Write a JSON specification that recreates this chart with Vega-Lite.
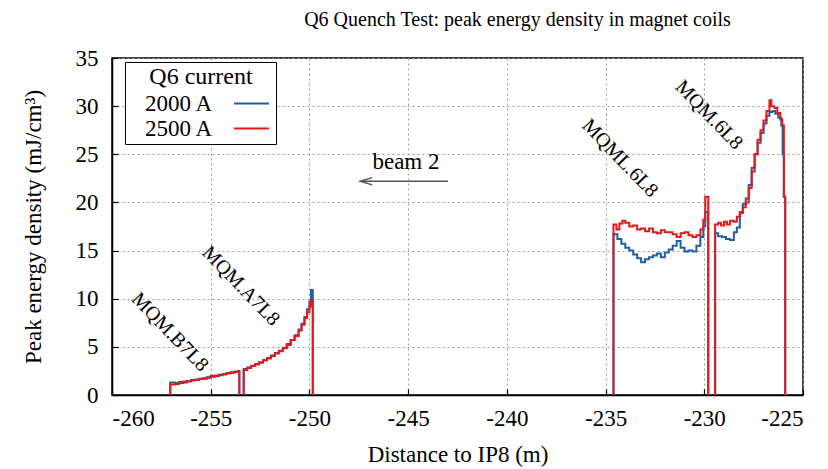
{
  "$schema": "https://vega.github.io/schema/vega-lite/v6.json",
  "width": 691,
  "height": 337,
  "autosize": {"type": "none"},
  "padding": {"left": 112, "top": 58, "right": 25, "bottom": 74},
  "background": "white",
  "title": {"text": "Q6 Quench Test: peak energy density in magnet coils", "fontSize": 20, "font": "Liberation Serif", "fontWeight": "normal", "anchor": "middle", "frame": "group", "dx": 60, "dy": 18, "offset": 15, "baseline": "bottom", "color": "#000"},
  "config": {
    "view": {"stroke": "#000", "strokeWidth": 1.5},
    "font": "Liberation Serif",
    "axis": {"labelFont": "Liberation Serif", "titleFont": "Liberation Serif", "labelFontSize": 23, "titleFontSize": 23, "titleFontWeight": "normal", "labelColor": "#000", "titleColor": "#000", "domainColor": "#000", "domainWidth": 1.5, "tickColor": "#000", "tickWidth": 1.2, "gridColor": "#9a9a9a", "gridDash": [2, 3], "gridWidth": 1, "grid": true}
  },
  "layer": [
    {
      "data": {"values": [
        {"s":"2000 A","g":1,"x":-257.05,"y":0},{"s":"2000 A","g":1,"x":-257.05,"y":1.3},{"s":"2000 A","g":1,"x":-256.8,"y":1.25},{"s":"2000 A","g":1,"x":-256.6,"y":1.35},{"s":"2000 A","g":1,"x":-256.4,"y":1.4},{"s":"2000 A","g":1,"x":-256.2,"y":1.45},{"s":"2000 A","g":1,"x":-256.0,"y":1.55},{"s":"2000 A","g":1,"x":-255.8,"y":1.6},{"s":"2000 A","g":1,"x":-255.6,"y":1.7},{"s":"2000 A","g":1,"x":-255.4,"y":1.75},{"s":"2000 A","g":1,"x":-255.2,"y":1.85},{"s":"2000 A","g":1,"x":-255.0,"y":1.9},{"s":"2000 A","g":1,"x":-254.8,"y":2.0},{"s":"2000 A","g":1,"x":-254.6,"y":2.05},{"s":"2000 A","g":1,"x":-254.4,"y":2.15},{"s":"2000 A","g":1,"x":-254.2,"y":2.25},{"s":"2000 A","g":1,"x":-254.0,"y":2.35},{"s":"2000 A","g":1,"x":-253.8,"y":2.45},{"s":"2000 A","g":1,"x":-253.6,"y":2.5},{"s":"2000 A","g":1,"x":-253.55,"y":0},
        {"s":"2000 A","g":2,"x":-253.33,"y":0},{"s":"2000 A","g":2,"x":-253.33,"y":2.7},{"s":"2000 A","g":2,"x":-253.15,"y":2.85},{"s":"2000 A","g":2,"x":-252.95,"y":3.05},{"s":"2000 A","g":2,"x":-252.75,"y":3.2},{"s":"2000 A","g":2,"x":-252.55,"y":3.4},{"s":"2000 A","g":2,"x":-252.35,"y":3.6},{"s":"2000 A","g":2,"x":-252.15,"y":3.85},{"s":"2000 A","g":2,"x":-251.95,"y":4.1},{"s":"2000 A","g":2,"x":-251.75,"y":4.35},{"s":"2000 A","g":2,"x":-251.55,"y":4.6},{"s":"2000 A","g":2,"x":-251.35,"y":4.9},{"s":"2000 A","g":2,"x":-251.15,"y":5.3},{"s":"2000 A","g":2,"x":-250.95,"y":5.7},{"s":"2000 A","g":2,"x":-250.75,"y":6.2},{"s":"2000 A","g":2,"x":-250.55,"y":6.8},{"s":"2000 A","g":2,"x":-250.4,"y":7.4},{"s":"2000 A","g":2,"x":-250.25,"y":8.1},{"s":"2000 A","g":2,"x":-250.12,"y":8.9},{"s":"2000 A","g":2,"x":-250.0,"y":9.7},{"s":"2000 A","g":2,"x":-249.92,"y":10.9},{"s":"2000 A","g":2,"x":-249.83,"y":0},
        {"s":"2000 A","g":3,"x":-234.6,"y":0},{"s":"2000 A","g":3,"x":-234.6,"y":16.7},{"s":"2000 A","g":3,"x":-234.4,"y":16.2},{"s":"2000 A","g":3,"x":-234.2,"y":15.7},{"s":"2000 A","g":3,"x":-234.0,"y":15.3},{"s":"2000 A","g":3,"x":-233.8,"y":15.0},{"s":"2000 A","g":3,"x":-233.6,"y":14.6},{"s":"2000 A","g":3,"x":-233.4,"y":14.2},{"s":"2000 A","g":3,"x":-233.2,"y":13.8},{"s":"2000 A","g":3,"x":-233.0,"y":14.1},{"s":"2000 A","g":3,"x":-232.8,"y":14.3},{"s":"2000 A","g":3,"x":-232.6,"y":14.5},{"s":"2000 A","g":3,"x":-232.4,"y":14.7},{"s":"2000 A","g":3,"x":-232.2,"y":14.3},{"s":"2000 A","g":3,"x":-232.0,"y":14.8},{"s":"2000 A","g":3,"x":-231.8,"y":15.1},{"s":"2000 A","g":3,"x":-231.6,"y":15.5},{"s":"2000 A","g":3,"x":-231.4,"y":16.0},{"s":"2000 A","g":3,"x":-231.2,"y":15.3},{"s":"2000 A","g":3,"x":-231.0,"y":14.9},{"s":"2000 A","g":3,"x":-230.8,"y":15.0},{"s":"2000 A","g":3,"x":-230.6,"y":14.9},{"s":"2000 A","g":3,"x":-230.4,"y":15.5},{"s":"2000 A","g":3,"x":-230.2,"y":16.4},{"s":"2000 A","g":3,"x":-230.05,"y":17.5},{"s":"2000 A","g":3,"x":-229.95,"y":19.0},{"s":"2000 A","g":3,"x":-229.8,"y":0},
        {"s":"2000 A","g":4,"x":-229.45,"y":0},{"s":"2000 A","g":4,"x":-229.45,"y":16.8},{"s":"2000 A","g":4,"x":-229.3,"y":16.5},{"s":"2000 A","g":4,"x":-229.1,"y":16.4},{"s":"2000 A","g":4,"x":-228.9,"y":16.2},{"s":"2000 A","g":4,"x":-228.7,"y":16.1},{"s":"2000 A","g":4,"x":-228.5,"y":16.9},{"s":"2000 A","g":4,"x":-228.35,"y":17.4},{"s":"2000 A","g":4,"x":-228.2,"y":19.0},{"s":"2000 A","g":4,"x":-228.05,"y":19.8},{"s":"2000 A","g":4,"x":-227.9,"y":20.4},{"s":"2000 A","g":4,"x":-227.75,"y":21.8},{"s":"2000 A","g":4,"x":-227.6,"y":23.6},{"s":"2000 A","g":4,"x":-227.45,"y":25.0},{"s":"2000 A","g":4,"x":-227.3,"y":26.2},{"s":"2000 A","g":4,"x":-227.15,"y":27.2},{"s":"2000 A","g":4,"x":-227.0,"y":28.2},{"s":"2000 A","g":4,"x":-226.85,"y":29.0},{"s":"2000 A","g":4,"x":-226.7,"y":29.4},{"s":"2000 A","g":4,"x":-226.55,"y":29.5},{"s":"2000 A","g":4,"x":-226.4,"y":29.2},{"s":"2000 A","g":4,"x":-226.25,"y":28.8},{"s":"2000 A","g":4,"x":-226.1,"y":28.0},{"s":"2000 A","g":4,"x":-226.03,"y":25.0},{"s":"2000 A","g":4,"x":-225.97,"y":20.6},{"s":"2000 A","g":4,"x":-225.9,"y":0},
        {"s":"2500 A","g":1,"x":-257.05,"y":0},{"s":"2500 A","g":1,"x":-257.05,"y":1.1},{"s":"2500 A","g":1,"x":-256.8,"y":1.15},{"s":"2500 A","g":1,"x":-256.6,"y":1.25},{"s":"2500 A","g":1,"x":-256.4,"y":1.3},{"s":"2500 A","g":1,"x":-256.2,"y":1.4},{"s":"2500 A","g":1,"x":-256.0,"y":1.5},{"s":"2500 A","g":1,"x":-255.8,"y":1.55},{"s":"2500 A","g":1,"x":-255.6,"y":1.65},{"s":"2500 A","g":1,"x":-255.4,"y":1.7},{"s":"2500 A","g":1,"x":-255.2,"y":1.8},{"s":"2500 A","g":1,"x":-255.0,"y":2.0},{"s":"2500 A","g":1,"x":-254.8,"y":1.95},{"s":"2500 A","g":1,"x":-254.6,"y":2.1},{"s":"2500 A","g":1,"x":-254.4,"y":2.15},{"s":"2500 A","g":1,"x":-254.2,"y":2.25},{"s":"2500 A","g":1,"x":-254.0,"y":2.3},{"s":"2500 A","g":1,"x":-253.8,"y":2.4},{"s":"2500 A","g":1,"x":-253.6,"y":2.45},{"s":"2500 A","g":1,"x":-253.55,"y":0},
        {"s":"2500 A","g":2,"x":-253.33,"y":0},{"s":"2500 A","g":2,"x":-253.33,"y":2.6},{"s":"2500 A","g":2,"x":-253.15,"y":2.8},{"s":"2500 A","g":2,"x":-252.95,"y":3.0},{"s":"2500 A","g":2,"x":-252.75,"y":3.2},{"s":"2500 A","g":2,"x":-252.55,"y":3.35},{"s":"2500 A","g":2,"x":-252.35,"y":3.6},{"s":"2500 A","g":2,"x":-252.15,"y":3.8},{"s":"2500 A","g":2,"x":-251.95,"y":4.05},{"s":"2500 A","g":2,"x":-251.75,"y":4.3},{"s":"2500 A","g":2,"x":-251.55,"y":4.55},{"s":"2500 A","g":2,"x":-251.35,"y":4.85},{"s":"2500 A","g":2,"x":-251.15,"y":5.2},{"s":"2500 A","g":2,"x":-250.95,"y":5.7},{"s":"2500 A","g":2,"x":-250.75,"y":6.1},{"s":"2500 A","g":2,"x":-250.55,"y":6.7},{"s":"2500 A","g":2,"x":-250.4,"y":7.3},{"s":"2500 A","g":2,"x":-250.25,"y":8.0},{"s":"2500 A","g":2,"x":-250.12,"y":8.6},{"s":"2500 A","g":2,"x":-250.0,"y":9.2},{"s":"2500 A","g":2,"x":-249.92,"y":9.8},{"s":"2500 A","g":2,"x":-249.83,"y":0},
        {"s":"2500 A","g":3,"x":-234.6,"y":0},{"s":"2500 A","g":3,"x":-234.6,"y":17.7},{"s":"2500 A","g":3,"x":-234.45,"y":17.2},{"s":"2500 A","g":3,"x":-234.3,"y":17.8},{"s":"2500 A","g":3,"x":-234.15,"y":18.1},{"s":"2500 A","g":3,"x":-234.0,"y":17.9},{"s":"2500 A","g":3,"x":-233.8,"y":17.5},{"s":"2500 A","g":3,"x":-233.6,"y":17.6},{"s":"2500 A","g":3,"x":-233.4,"y":17.2},{"s":"2500 A","g":3,"x":-233.2,"y":17.3},{"s":"2500 A","g":3,"x":-233.0,"y":17.0},{"s":"2500 A","g":3,"x":-232.8,"y":17.3},{"s":"2500 A","g":3,"x":-232.6,"y":16.9},{"s":"2500 A","g":3,"x":-232.4,"y":16.8},{"s":"2500 A","g":3,"x":-232.2,"y":17.1},{"s":"2500 A","g":3,"x":-232.0,"y":16.9},{"s":"2500 A","g":3,"x":-231.8,"y":16.9},{"s":"2500 A","g":3,"x":-231.6,"y":16.7},{"s":"2500 A","g":3,"x":-231.4,"y":16.4},{"s":"2500 A","g":3,"x":-231.2,"y":16.8},{"s":"2500 A","g":3,"x":-231.0,"y":16.9},{"s":"2500 A","g":3,"x":-230.8,"y":16.6},{"s":"2500 A","g":3,"x":-230.6,"y":16.4},{"s":"2500 A","g":3,"x":-230.4,"y":16.6},{"s":"2500 A","g":3,"x":-230.2,"y":17.2},{"s":"2500 A","g":3,"x":-230.05,"y":18.2},{"s":"2500 A","g":3,"x":-229.95,"y":20.6},{"s":"2500 A","g":3,"x":-229.8,"y":0},
        {"s":"2500 A","g":4,"x":-229.45,"y":0},{"s":"2500 A","g":4,"x":-229.45,"y":17.7},{"s":"2500 A","g":4,"x":-229.3,"y":17.9},{"s":"2500 A","g":4,"x":-229.15,"y":17.6},{"s":"2500 A","g":4,"x":-229.0,"y":18.0},{"s":"2500 A","g":4,"x":-228.85,"y":17.7},{"s":"2500 A","g":4,"x":-228.7,"y":18.1},{"s":"2500 A","g":4,"x":-228.5,"y":18.0},{"s":"2500 A","g":4,"x":-228.35,"y":18.5},{"s":"2500 A","g":4,"x":-228.2,"y":18.9},{"s":"2500 A","g":4,"x":-228.05,"y":19.5},{"s":"2500 A","g":4,"x":-227.9,"y":20.0},{"s":"2500 A","g":4,"x":-227.75,"y":21.5},{"s":"2500 A","g":4,"x":-227.6,"y":23.2},{"s":"2500 A","g":4,"x":-227.45,"y":25.0},{"s":"2500 A","g":4,"x":-227.3,"y":26.5},{"s":"2500 A","g":4,"x":-227.15,"y":27.5},{"s":"2500 A","g":4,"x":-227.0,"y":28.5},{"s":"2500 A","g":4,"x":-226.85,"y":29.5},{"s":"2500 A","g":4,"x":-226.7,"y":30.6},{"s":"2500 A","g":4,"x":-226.6,"y":30.0},{"s":"2500 A","g":4,"x":-226.45,"y":29.8},{"s":"2500 A","g":4,"x":-226.3,"y":29.3},{"s":"2500 A","g":4,"x":-226.15,"y":28.6},{"s":"2500 A","g":4,"x":-226.05,"y":28.0},{"s":"2500 A","g":4,"x":-225.97,"y":20.6},{"s":"2500 A","g":4,"x":-225.9,"y":0}
      ]},
      "mark": {"type": "line", "interpolate": "step-after", "strokeWidth": 2},
      "encoding": {
        "x": {"field": "x", "type": "quantitative", "title": "Distance to IP8 (m)", "scale": {"domain": [-260, -225], "nice": false, "zero": false}, "axis": {"values": [-260, -255, -250, -245, -240, -235, -230, -225], "labelExpr": "'' + datum.value", "tickSize": -6, "labelPadding": 18, "titlePadding": 13}},
        "y": {"field": "y", "type": "quantitative", "title": "Peak energy density (mJ/cm³)", "scale": {"domain": [0, 35], "nice": false}, "axis": {"values": [0, 5, 10, 15, 20, 25, 30, 35], "tickSize": -6, "labelPadding": 20, "titlePadding": 30}},
        "color": {"field": "s", "type": "nominal", "scale": {"domain": ["2000 A", "2500 A"], "range": ["#1f5fa6", "#e3191c"]},
          "legend": {"title": "Q6 current", "orient": "none", "legendX": 13, "legendY": 4, "direction": "vertical", "strokeColor": "#000", "fillColor": "#fff", "padding": 3, "titleFontSize": 24, "titleFont": "Liberation Serif", "titleFontWeight": "normal", "titleColor": "#000", "titleAnchor": "middle", "labelFontSize": 23, "labelFont": "Liberation Serif", "labelColor": "#000", "symbolType": "M-1.75,0H1.75", "symbolStrokeWidth": 2, "symbolSize": 400, "symbolOffset": 112, "labelOffset": -118, "rowPadding": 1, "titlePadding": 3}},
        "detail": {"field": "g", "type": "nominal"},
        "order": {"value": null}
      }
    },
    {
      "data": {"values": [
        {"t": "MQM.B7L8", "x": -257.06, "y": 6.54},
        {"t": "MQM.A7L8", "x": -253.47, "y": 11.32},
        {"t": "MQML.6L8", "x": -234.27, "y": 24.6},
        {"t": "MQM.6L8", "x": -229.76, "y": 29.08}
      ]},
      "mark": {"type": "text", "angle": 46, "fontSize": 20, "font": "Liberation Serif", "align": "center", "baseline": "middle", "color": "#000"},
      "encoding": {
        "x": {"field": "x", "type": "quantitative", "title": "Distance to IP8 (m)"},
        "y": {"field": "y", "type": "quantitative", "title": "Peak energy density (mJ/cm³)"},
        "text": {"field": "t"}
      }
    },
    {
      "data": {"values": [{"t": "beam 2", "x": -245.11, "y": 24.2}]},
      "mark": {"type": "text", "fontSize": 23, "font": "Liberation Serif", "align": "center", "baseline": "middle", "color": "#000"},
      "encoding": {
        "x": {"field": "x", "type": "quantitative", "title": "Distance to IP8 (m)"},
        "y": {"field": "y", "type": "quantitative", "title": "Peak energy density (mJ/cm³)"},
        "text": {"field": "t"}
      }
    },
    {
      "data": {"values": [{"x": -242.98, "xe": -247.4, "y": 22.2}]},
      "mark": {"type": "rule", "color": "#555", "strokeWidth": 1.5},
      "encoding": {
        "x": {"field": "x", "type": "quantitative", "title": "Distance to IP8 (m)"},
        "x2": {"field": "xe"},
        "y": {"field": "y", "type": "quantitative", "title": "Peak energy density (mJ/cm³)"}
      }
    },
    {
      "data": {"values": [{"x": -247.12, "y": 22.2}]},
      "mark": {"type": "point", "shape": "M1,-0.6L-1,0L1,0.6", "filled": false, "stroke": "#555", "strokeWidth": 1.5, "size": 144, "opacity": 1},
      "encoding": {
        "x": {"field": "x", "type": "quantitative", "title": "Distance to IP8 (m)"},
        "y": {"field": "y", "type": "quantitative", "title": "Peak energy density (mJ/cm³)"}
      }
    }
  ]
}
